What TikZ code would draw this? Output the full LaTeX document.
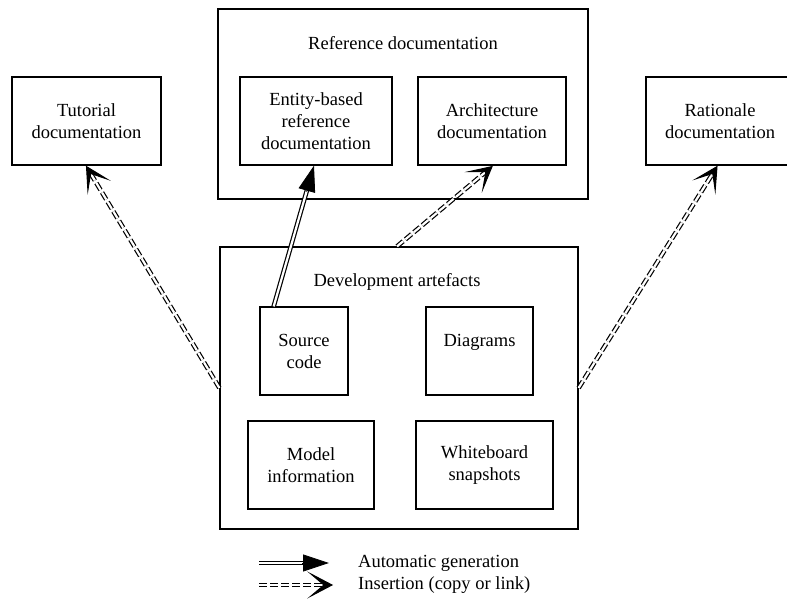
\documentclass[tikz,border=0pt]{standalone}
\usepackage{fontspec}
\setmainfont{Liberation Serif}
\usetikzlibrary{arrows.meta,calc}
% bold chevron head for insertion connectors: #1 = start, #2 = tip
\newcommand\inschevron[2]{%
  \filldraw[line width=1pt, line join=miter]
    (#2)
    -- ($($(#2)!21pt!(#1)$)!11pt!90:(#2)$)
    -- ($(#2)!8pt!(#1)$)
    -- ($($(#2)!21pt!(#1)$)!11pt!-90:(#2)$)
    -- cycle;}
\begin{document}
\begin{tikzpicture}[x=1pt,y=-1pt,
  every node/.style={font=\fontsize{18.5}{22}\selectfont},
  box/.style={draw, line width=1.2pt, inner sep=0pt, align=center},
  title/.style={inner sep=0pt, anchor=center},
  gendbl/.style={draw, double=white, double distance=2.2pt, line width=1.2pt},
  insdbl/.style={gendbl, dash pattern=on 8pt off 3pt},
  gentip/.style={line width=0.8pt, -{Triangle[length=26pt,width=17pt]}}
]
\useasboundingbox (0,0) rectangle (787,601);
\fill[white] (0,0) rectangle (787,601);

% side documentation boxes
\node[box, minimum width=149pt, minimum height=88pt] (tut) at (86.5,121) {Tutorial\\documentation};
\node[box, minimum width=148pt, minimum height=88pt] (rat) at (720,121) {Rationale\\documentation};

% reference documentation group
\node[box, minimum width=370pt, minimum height=190pt] (ref) at (403,104) {};
\node[title] (reft) at (403,43) {Reference documentation};
\node[box, minimum width=152pt, minimum height=88pt] (ent) at (316,121) {Entity-based\\reference\\documentation};
\node[box, minimum width=148pt, minimum height=88pt] (arch) at (492,121) {Architecture\\documentation};

% development artefacts group
\node[box, minimum width=358pt, minimum height=282pt] (dev) at (399,388) {};
\node[title] (devt) at (397,282) {Development artefacts};
\node[box, minimum width=88pt, minimum height=88pt] (src) at (304,351) {Source\\code};
\node[box, minimum width=107pt, minimum height=88pt] (diag) at (479.5,351) {Diagrams\\\phantom{x}};
\node[box, minimum width=126pt, minimum height=88pt] (model) at (311,465) {Model\\information};
\node[box, minimum width=137pt, minimum height=88pt] (white) at (484.5,465) {Whiteboard\\snapshots};

% connector end points
\coordinate (g1s) at ($(src.north west)!0.16!(src.north east)$);
\coordinate (g1e) at ($(ent.south)+(-2,0)$);
\coordinate (i1s) at ($(dev.north)+(-2,0)$);
\coordinate (i1e) at ($(arch.south)+(0,1)$);
\coordinate (i2s) at (dev.west);
\coordinate (i2e) at ($(tut.south)+(0,1)$);
\coordinate (i3s) at (dev.east);
\coordinate (i3e) at ($(rat.south)+(-3,1)$);

% automatic generation
\draw[gendbl, shorten >=20pt] (g1s) -- (g1e);
\draw[gentip] ($(g1e)!27pt!(g1s)$) -- (g1e);

% insertions
\foreach \s/\t in {i1s/i1e, i2s/i2e, i3s/i3e}{
  \draw[insdbl, shorten >=9pt] (\s) -- (\t);
  \inschevron{\s}{\t}
}

% legend
\coordinate (lg1s) at (259,563);
\coordinate (lg1e) at (329,563);
\coordinate (lg2s) at (259,585);
\coordinate (lg2e) at (332,585);
\draw[gendbl, shorten >=20pt] (lg1s) -- (lg1e);
\draw[gentip] ($(lg1e)!27pt!(lg1s)$) -- (lg1e);
\draw[insdbl, shorten >=9pt] (lg2s) -- (lg2e);
\inschevron{lg2s}{lg2e}
\node[anchor=west, inner sep=0pt] (lgt1) at (358,563) {Automatic generation};
\node[anchor=west, inner sep=0pt] (lgt2) at (358,585) {Insertion (copy or link)};
\end{tikzpicture}
\end{document}
